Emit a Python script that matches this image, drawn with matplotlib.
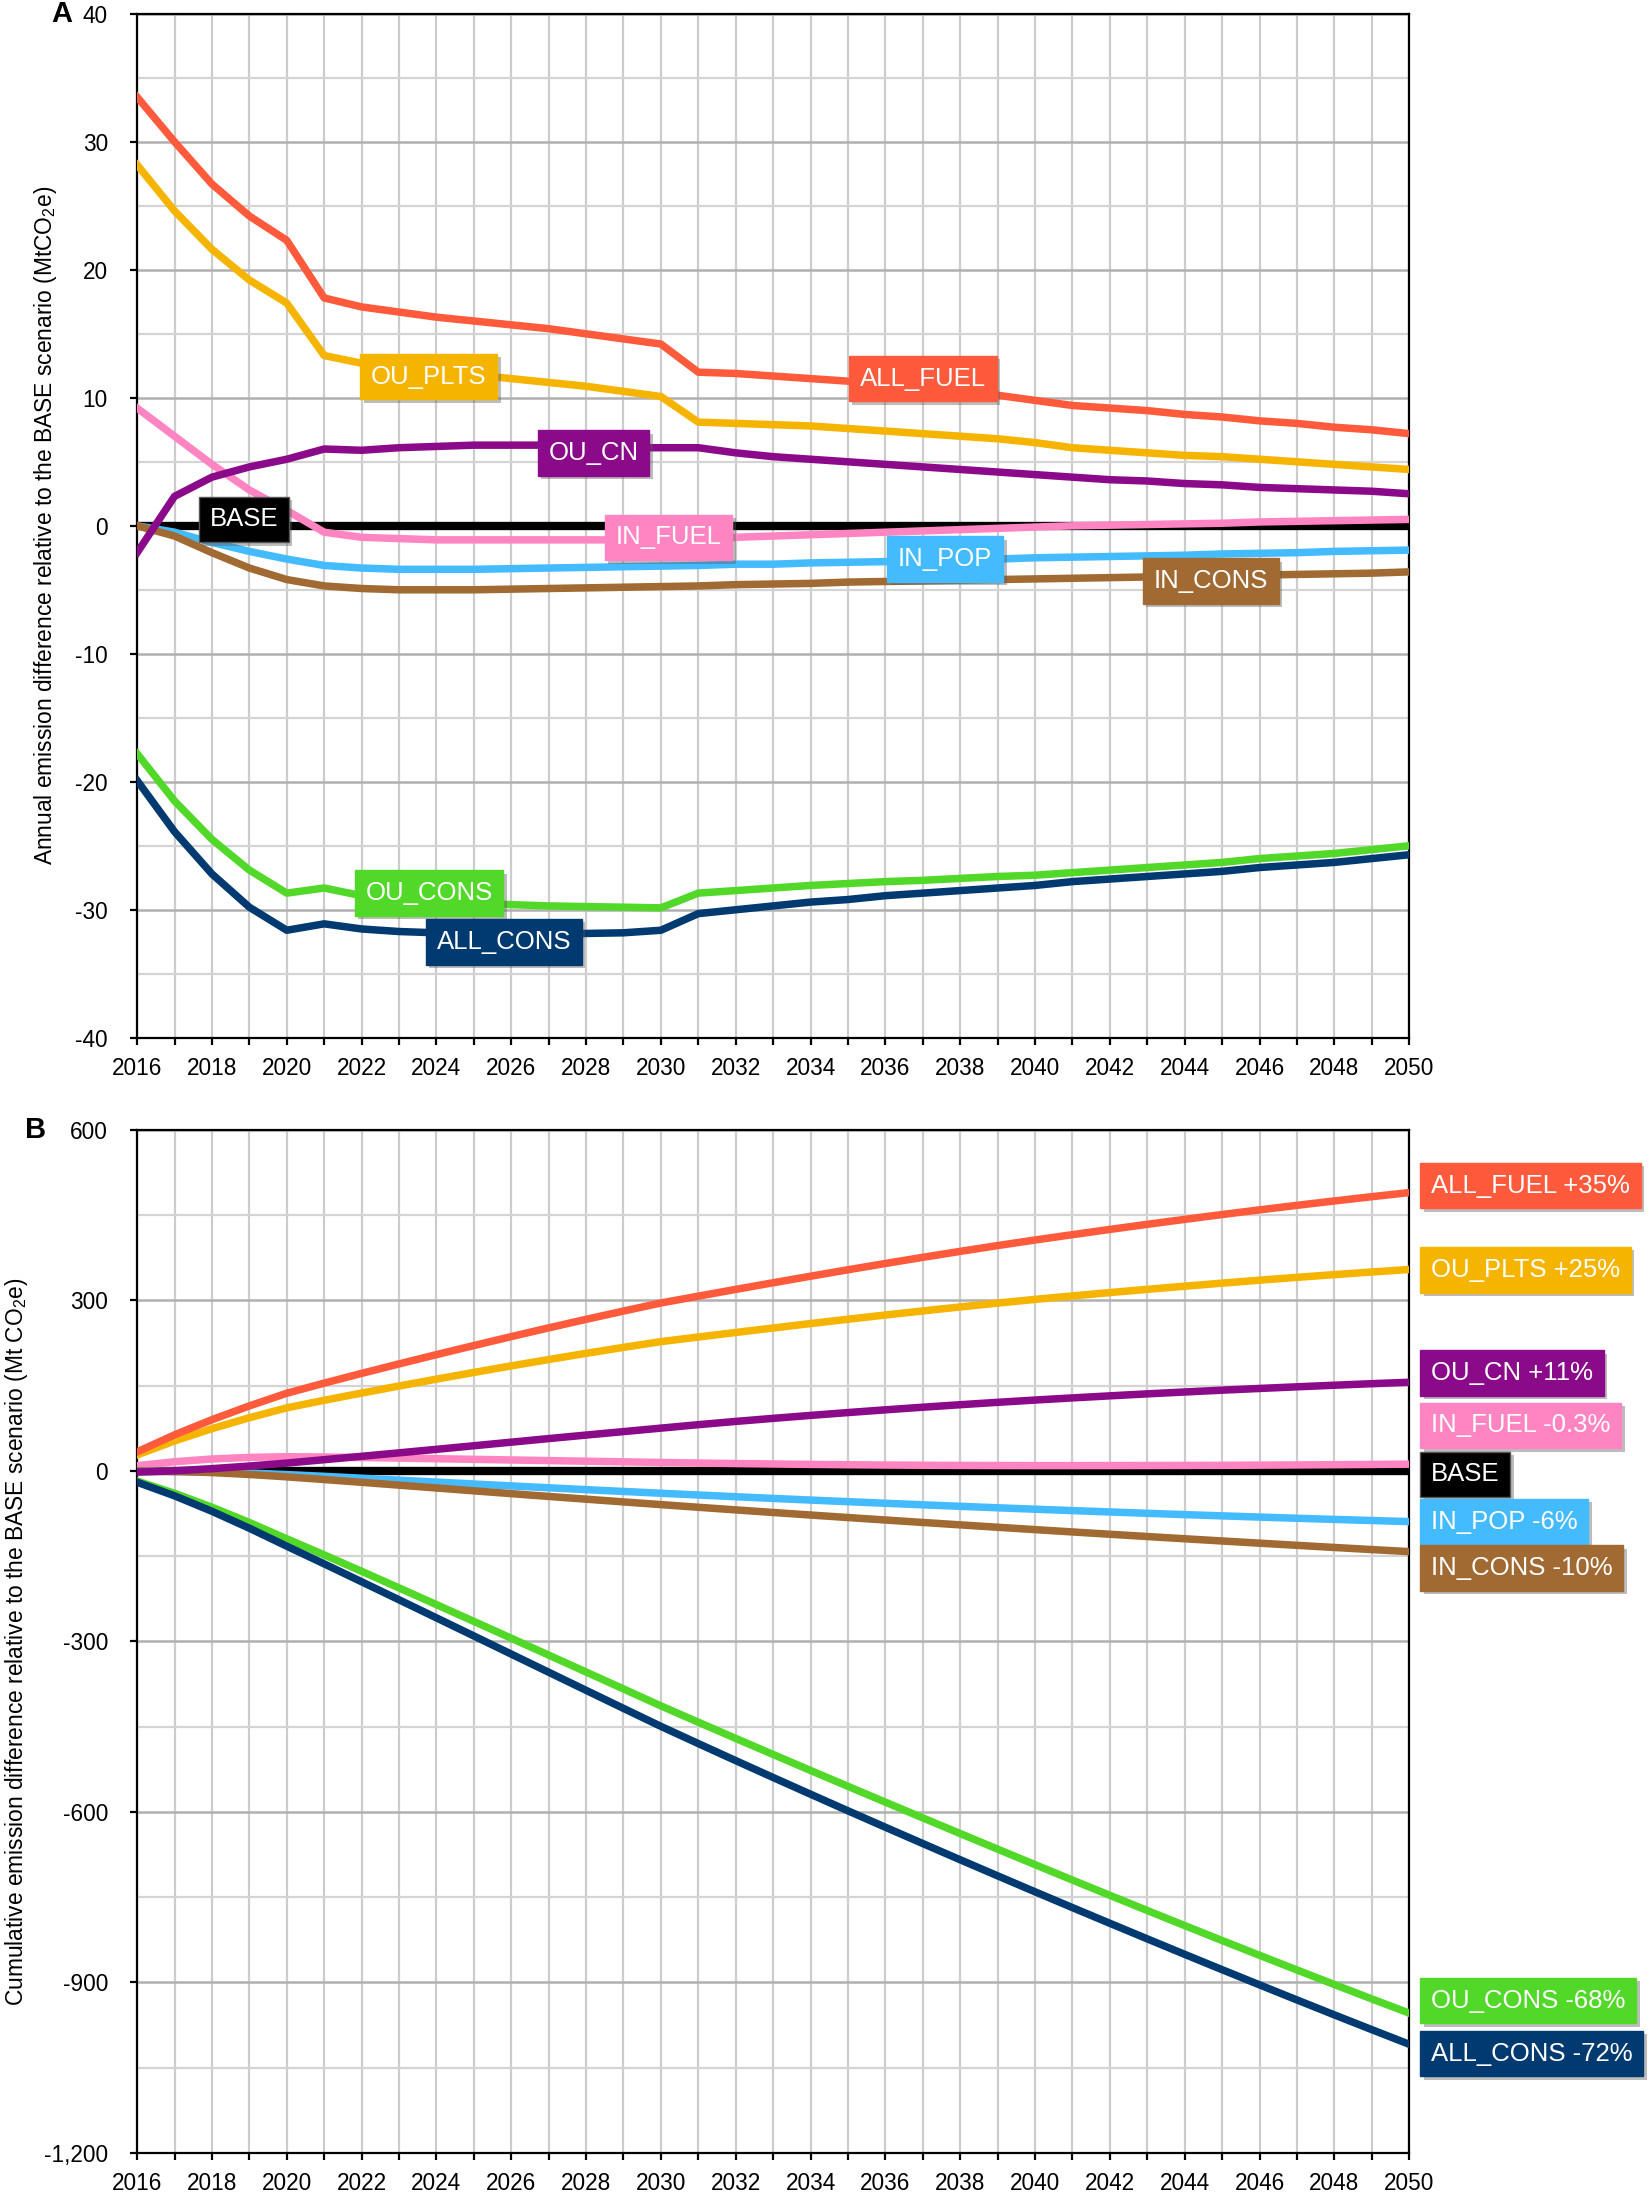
import matplotlib
matplotlib.use("Agg")
import matplotlib.pyplot as plt
import matplotlib.patheffects as pe
from matplotlib.ticker import MultipleLocator, FuncFormatter
import matplotlib.transforms as mtransforms

plt.rcParams['font.family'] = ['Liberation Sans', 'DejaVu Sans']
plt.rcParams['mathtext.fontset'] = 'custom'
plt.rcParams['mathtext.rm'] = 'Liberation Sans'
plt.rcParams['mathtext.it'] = 'Liberation Sans'

years = list(range(2016, 2051))

# ---------- Panel A: annual difference (MtCO2e) ----------
a_all_fuel = [33.5, 30.0, 26.7, 24.2, 22.3, 17.8, 17.1, 16.7, 16.3, 16.0, 15.7, 15.4, 15.0, 14.6, 14.2,
              12.0, 11.9, 11.7, 11.5, 11.3, 11.1, 10.8, 10.5, 10.2, 9.8, 9.4, 9.2, 9.0, 8.7, 8.5,
              8.2, 8.0, 7.7, 7.5, 7.2]
a_ou_plts = [28.2, 24.6, 21.6, 19.2, 17.4, 13.3, 12.7, 12.4, 12.1, 11.8, 11.5, 11.2, 10.9, 10.5, 10.1,
             8.1, 8.0, 7.9, 7.8, 7.6, 7.4, 7.2, 7.0, 6.8, 6.5, 6.1, 5.9, 5.7, 5.5, 5.4,
             5.2, 5.0, 4.8, 4.6, 4.4]
a_ou_cn = [-2.1, 2.3, 3.8, 4.6, 5.2, 6.0, 5.9, 6.1, 6.2, 6.3, 6.3, 6.3, 6.2, 6.1, 6.1,
           6.1, 5.7, 5.4, 5.2, 5.0, 4.8, 4.6, 4.4, 4.2, 4.0, 3.8, 3.6, 3.5, 3.3, 3.2,
           3.0, 2.9, 2.8, 2.7, 2.5]
a_in_fuel = [9.2, 7.0, 4.8, 2.8, 1.2, -0.5, -0.9, -1.0, -1.1, -1.1, -1.1, -1.1, -1.1, -1.1, -1.1,
             -1.0, -0.9, -0.8, -0.7, -0.6, -0.5, -0.4, -0.3, -0.2, -0.1, 0.0, 0.05, 0.1, 0.15, 0.2,
             0.3, 0.35, 0.4, 0.45, 0.5]
a_base = [0.0] * 35
a_in_pop = [0.0, -0.5, -1.3, -2.0, -2.6, -3.1, -3.3, -3.4, -3.4, -3.4, -3.35, -3.3, -3.25, -3.2, -3.15,
            -3.1, -3.0, -3.0, -2.9, -2.85, -2.8, -2.7, -2.65, -2.6, -2.5, -2.45, -2.4, -2.35, -2.3, -2.2,
            -2.15, -2.1, -2.0, -1.95, -1.9]
a_in_cons = [0.0, -0.8, -2.1, -3.3, -4.2, -4.7, -4.9, -5.0, -5.0, -5.0, -4.95, -4.9, -4.85, -4.8, -4.75,
             -4.7, -4.6, -4.55, -4.5, -4.4, -4.35, -4.3, -4.25, -4.2, -4.15, -4.1, -4.05, -4.0, -3.95, -3.9,
             -3.85, -3.8, -3.75, -3.7, -3.6]
a_ou_cons = [-17.8, -21.5, -24.5, -26.9, -28.7, -28.3, -28.9, -29.2, -29.4, -29.5, -29.6, -29.7, -29.75, -29.8, -29.85,
             -28.7, -28.5, -28.3, -28.1, -27.95, -27.8, -27.7, -27.55, -27.4, -27.3, -27.1, -26.9, -26.7, -26.5, -26.3,
             -26.0, -25.8, -25.6, -25.3, -25.0]
a_all_cons = [-19.9, -23.9, -27.2, -29.8, -31.6, -31.1, -31.5, -31.7, -31.8, -31.85, -31.9, -31.9, -31.85, -31.8, -31.6,
              -30.3, -30.0, -29.7, -29.4, -29.2, -28.9, -28.7, -28.5, -28.3, -28.1, -27.8, -27.6, -27.4, -27.2, -27.0,
              -26.7, -26.5, -26.3, -26.0, -25.7]

# ---------- Panel B: cumulative difference (Mt CO2e) ----------
b_all_fuel = [33.5, 63.5, 90.2, 114.4, 136.7, 154.5, 171.6, 188.3, 204.6, 220.6, 236.3, 251.7, 266.7, 281.3, 295.5,
              307.5, 319.4, 331.1, 342.6, 353.9, 365.0, 375.8, 386.3, 396.5, 406.3, 415.7, 424.9, 433.9, 442.6, 451.1,
              459.3, 467.3, 475.0, 482.5, 489.7]
b_ou_plts = [28.2, 52.8, 74.4, 93.6, 111.0, 124.3, 137.0, 149.4, 161.5, 173.3, 184.8, 196.0, 206.9, 217.4, 227.5,
             235.6, 243.6, 251.5, 259.3, 266.9, 274.3, 281.5, 288.5, 295.3, 301.8, 307.9, 313.8, 319.5, 325.0, 330.4,
             335.6, 340.6, 345.4, 350.0, 354.4]
b_ou_cn = [-2.1, 0.2, 4.0, 8.6, 13.8, 19.8, 25.7, 31.8, 38.0, 44.3, 50.6, 56.9, 63.1, 69.2, 75.3,
           81.4, 87.1, 92.5, 97.7, 102.7, 107.5, 112.1, 116.5, 120.7, 124.7, 128.5, 132.1, 135.6, 138.9, 142.1,
           145.1, 148.0, 150.8, 153.5, 156.0]
b_in_fuel = [9.2, 16.2, 21.0, 23.8, 25.0, 24.5, 23.6, 22.6, 21.5, 20.4, 19.3, 18.2, 17.1, 16.0, 14.9,
             13.9, 13.0, 12.2, 11.5, 10.9, 10.4, 10.0, 9.7, 9.5, 9.4, 9.4, 9.45, 9.55, 9.7, 9.9,
             10.2, 10.55, 10.95, 11.4, 11.9]
b_base = [0.0] * 35
b_in_pop = [0.0, -0.5, -1.8, -3.8, -6.4, -9.5, -12.8, -16.2, -19.6, -23.0, -26.35, -29.65, -32.9, -36.1, -39.25,
            -42.35, -45.35, -48.35, -51.25, -54.1, -56.9, -59.6, -62.25, -64.85, -67.35, -69.8, -72.2, -74.55, -76.85, -79.05,
            -81.2, -83.3, -85.3, -87.25, -89.15]
b_in_cons = [0.0, -0.8, -2.9, -6.2, -10.4, -15.1, -20.0, -25.0, -30.0, -35.0, -39.95, -44.85, -49.7, -54.5, -59.25,
             -63.95, -68.55, -73.1, -77.6, -82.0, -86.35, -90.65, -94.9, -99.1, -103.25, -107.35, -111.4, -115.4, -119.35, -123.25,
             -127.1, -130.9, -134.65, -138.35, -141.95]
b_ou_cons = [-17.8, -39.3, -63.8, -90.7, -119.4, -147.7, -176.6, -205.8, -235.2, -264.7, -294.3, -324.0, -353.75, -383.55, -413.4,
             -442.1, -470.6, -498.9, -527.0, -554.95, -582.75, -610.45, -638.0, -665.4, -692.7, -719.8, -746.7, -773.4, -799.9, -826.2,
             -852.2, -878.0, -903.6, -928.9, -953.9]
b_all_cons = [-19.9, -43.8, -71.0, -100.8, -132.4, -163.5, -195.0, -226.7, -258.5, -290.35, -322.25, -354.15, -386.0, -417.8, -449.4,
              -479.7, -509.7, -539.4, -568.8, -598.0, -626.9, -655.6, -684.1, -712.4, -740.5, -768.3, -795.9, -823.3, -850.5, -877.5,
              -904.2, -930.7, -957.0, -983.0, -1008.7]

names = ['IN_FUEL', 'IN_POP', 'IN_CONS', 'OU_CN', 'OU_PLTS', 'OU_CONS', 'ALL_FUEL', 'ALL_CONS', 'BASE']
colors = {'ALL_FUEL': '#FF5A3C', 'OU_PLTS': '#F5B400', 'OU_CN': '#8A0A8A', 'IN_FUEL': '#FF85C2',
          'BASE': '#000000', 'IN_POP': '#45BBFF', 'IN_CONS': '#A06A32', 'OU_CONS': '#52D828',
          'ALL_CONS': '#003A70'}
series_a = {'ALL_FUEL': a_all_fuel, 'OU_PLTS': a_ou_plts, 'OU_CN': a_ou_cn, 'IN_FUEL': a_in_fuel,
            'BASE': a_base, 'IN_POP': a_in_pop, 'IN_CONS': a_in_cons, 'OU_CONS': a_ou_cons,
            'ALL_CONS': a_all_cons}
series_b = {'ALL_FUEL': b_all_fuel, 'OU_PLTS': b_ou_plts, 'OU_CN': b_ou_cn, 'IN_FUEL': b_in_fuel,
            'BASE': b_base, 'IN_POP': b_in_pop, 'IN_CONS': b_in_cons, 'OU_CONS': b_ou_cons,
            'ALL_CONS': b_all_cons}
# inline label anchor points in panel A (year, value)
label_pos_a = {'OU_PLTS': (2023.8, 11.65), 'ALL_FUEL': (2037.0, 11.5), 'OU_CN': (2028.2, 5.7),
               'BASE': (2018.85, 0.5), 'IN_FUEL': (2030.2, -0.9), 'IN_POP': (2037.6, -2.6),
               'IN_CONS': (2044.7, -4.3), 'OU_CONS': (2023.8, -28.7), 'ALL_CONS': (2025.8, -32.5)}
# right-side labels in panel B (text, y value)
label_b = [('ALL_FUEL', 'ALL_FUEL +35%', 502), ('OU_PLTS', 'OU_PLTS +25%', 354),
           ('OU_CN', 'OU_CN +11%', 172), ('IN_FUEL', 'IN_FUEL -0.3%', 80),
           ('BASE', 'BASE', -6), ('IN_POP', 'IN_POP -6%', -89), ('IN_CONS', 'IN_CONS -10%', -171),
           ('OU_CONS', 'OU_CONS -68%', -932), ('ALL_CONS', 'ALL_CONS -72%', -1025)]

fig = plt.figure(figsize=(16.52, 21.94), dpi=100)
axA = fig.add_axes([0.083, 0.527, 0.770, 0.4667])
axB = fig.add_axes([0.083, 0.0187, 0.770, 0.4663])

shadow = [pe.SimplePatchShadow(offset=(2.5, -2.5), shadow_rgbFace='0.35', alpha=0.4), pe.Normal()]
LABEL_FS = 18.5
PAD = 0.42
TICK_FS = 16.3
YLAB_FS = 16.4


def style_axis(ax, ymin, ymax, major, minor, fmt):
    ax.set_xlim(2016, 2050)
    ax.set_ylim(ymin, ymax)
    ax.xaxis.set_major_locator(MultipleLocator(2))
    ax.xaxis.set_minor_locator(MultipleLocator(1))
    ax.yaxis.set_major_locator(MultipleLocator(major))
    ax.yaxis.set_minor_locator(MultipleLocator(minor))
    ax.yaxis.set_major_formatter(FuncFormatter(fmt))
    ax.grid(which='minor', axis='x', color='#cccccc', lw=1.6, zorder=0)
    ax.grid(which='major', axis='x', color='#cccccc', lw=1.6, zorder=0)
    ax.grid(which='minor', axis='y', color='#d4d4d4', lw=1.6, zorder=0)
    ax.grid(which='major', axis='y', color='#b0b0b0', lw=1.8, zorder=0)
    ax.set_axisbelow(True)
    ax.tick_params(axis='both', which='major', labelsize=TICK_FS, direction='out', length=5, width=1.6,
                   color='black')
    ax.tick_params(axis='x', which='major', pad=9)
    ax.tick_params(axis='y', which='major', pad=16)
    ax.tick_params(axis='x', which='minor', direction='out', length=5, width=1.6)
    ax.tick_params(axis='y', which='minor', length=0)
    for s in ax.spines.values():
        s.set_linewidth(1.6)
        s.set_color('black')


style_axis(axA, -40, 40, 10, 5, lambda v, p: f"{int(v)}")
style_axis(axB, -1200, 600, 300, 150, lambda v, p: f"{int(v):,}")

# Panel A lines
for n in names:
    lw = 6.0 if n == 'BASE' else 5.4
    axA.plot(years, series_a[n], color=colors[n], lw=lw, solid_joinstyle='round', zorder=3 if n != 'BASE' else 2.5)

for n, (x, y) in label_pos_a.items():
    t = axA.text(x, y, n, color='white', fontsize=LABEL_FS, ha='center', va='center', zorder=6,
                 bbox=dict(boxstyle=f'square,pad={PAD}', fc=colors[n], ec=colors[n] if n != 'BASE' else '#555555', lw=1.0))
    t.get_bbox_patch().set_path_effects(shadow)

# Panel B lines
for n in names:
    lw = 6.0 if n == 'BASE' else 5.4
    axB.plot(years, series_b[n], color=colors[n], lw=lw, solid_joinstyle='round', zorder=3 if n != 'BASE' else 2.5)

trans = mtransforms.blended_transform_factory(axB.transAxes, axB.transData)
for n, txt, y in label_b:
    t = axB.annotate(txt, xy=(1.0, y), xycoords=trans, xytext=(8 + PAD * LABEL_FS, 0), textcoords='offset points',
                     color='white', fontsize=LABEL_FS, ha='left', va='center', annotation_clip=False,
                     bbox=dict(boxstyle=f'square,pad={PAD}', fc=colors[n], ec=colors[n] if n != 'BASE' else '#555555', lw=1.0))
    t.get_bbox_patch().set_path_effects(shadow)

axA.set_ylabel(r"Annual emission difference relative to the BASE scenario (MtCO$\mathregular{_2}$e)", fontsize=YLAB_FS, labelpad=12)
axB.set_ylabel(r"Cumulative emission difference relative to the BASE scenario (Mt CO$\mathregular{_2}$e)", fontsize=YLAB_FS, labelpad=10)

fig.text(0.031, 0.9936, 'A', fontsize=21, fontweight='bold', ha='left', va='center')
fig.text(0.015, 0.4849, 'B', fontsize=21, fontweight='bold', ha='left', va='center')

fig.savefig('out.png', dpi=100)
